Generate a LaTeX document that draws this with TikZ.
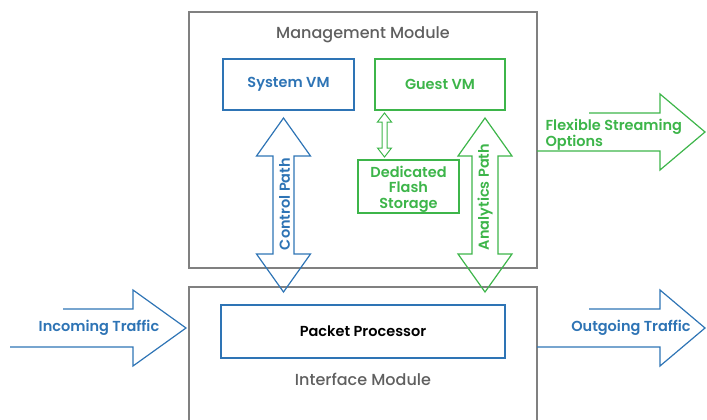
\documentclass[tikz,border=0pt]{standalone}
\usepackage{fontspec}
\setmainfont{Poppins}[BoldFont={Poppins SemiBold}]
\newfontfamily\titlefont{Poppins Medium}
\definecolor{vblue}{HTML}{2E74B5}
\definecolor{vgreen}{HTML}{3DB54A}
\definecolor{vgray}{HTML}{808080}
\definecolor{vtext}{HTML}{5F5F5F}
\newcommand{\vdblarrow}[7]{%
  \draw[#1] (#2-#5,#3+#7) -- (#2-#6,#3+#7) -- (#2,#3) -- (#2+#6,#3+#7) -- (#2+#5,#3+#7)
    -- (#2+#5,#4-#7) -- (#2+#6,#4-#7) -- (#2,#4) -- (#2-#6,#4-#7) -- (#2-#5,#4-#7) -- cycle;}
\begin{document}
\begin{tikzpicture}[x=1pt,y=-1pt,
  modbox/.style={draw=vgray,line width=2pt,inner sep=0pt},
  modtitle/.style={text=vtext,font=\titlefont\fontsize{16}{18}\selectfont},
  bluebox/.style={draw=vblue,line width=1.4pt,inner sep=0pt,text=vblue,font=\fontsize{14.5}{17}\selectfont\bfseries},
  greenbox/.style={draw=vgreen,line width=1.4pt,inner sep=0pt,text=vgreen,font=\fontsize{14.5}{17}\selectfont\bfseries,align=center},
  bluearrow/.style={draw=vblue,line width=1.2pt,line join=miter},
  greenarrow/.style={draw=vgreen,line width=1.2pt,line join=miter},
  bluelabel/.style={text=vblue,font=\fontsize{14.5}{17}\selectfont\bfseries},
  greenlabel/.style={text=vgreen,font=\fontsize{14.5}{17}\selectfont\bfseries,align=left}]
\useasboundingbox (0,0) rectangle (707,420);
% modules
\node[modbox,minimum width=348,minimum height=256] (mgmt) at (363,140) {};
\node[modtitle] (mgmttitle) at (363,35) {Management Module};
\draw[draw=vgray,line width=2pt] (189,421) -- (189,287) -- (537,287) -- (537,421);
\coordinate (iface) at (363,287);
\node[modtitle] (ifacetitle) at (363,379) {Interface Module};
% inner boxes
\node[bluebox,minimum width=131,minimum height=51] (sysvm) at (288.5,84.5) {System VM};
\node[greenbox,minimum width=130,minimum height=51] (guestvm) at (440,84.5) {Guest VM};
\node[draw=vgreen,line width=1.4pt,minimum width=101,minimum height=53] (flash) at (408.5,186.5) {};
\node[text=vgreen,align=center,font=\fontsize{14.5}{15.5}\selectfont\bfseries] (flashtext) at (408.5,189) {Dedicated\\Flash\\Storage};
\node[draw=vblue,line width=1.4pt,inner sep=0pt,minimum width=284,minimum height=53,font=\fontsize{14.5}{17}\selectfont\bfseries] (pp) at (363,331.5) {Packet Processor};
% vertical double arrows
\vdblarrow{bluearrow}{283.5}{118}{292}{10.5}{27}{38}
\node[bluelabel,rotate=90] (ctrl) at (284.5,204) {Control Path};
\vdblarrow{greenarrow}{485}{118}{292}{13}{27}{38}
\node[greenlabel,rotate=90] (anal) at (485,197) {Analytics Path};
\vdblarrow{greenarrow,line width=1pt}{384.5}{113}{157}{2.5}{7}{9}
% horizontal arrows
\draw[bluearrow] (63,309) -- (133,309) -- (133,290) -- (186,328) -- (133,366) -- (133,347) -- (10,347);
\node[bluelabel] (inc) at (99,328) {Incoming Traffic};
\draw[bluearrow] (589,309) -- (660,309) -- (660,290) -- (705,328) -- (660,366) -- (660,347) -- (537,347);
\node[bluelabel] (out) at (631,328) {Outgoing Traffic};
\draw[greenarrow] (589,113) -- (660,113) -- (660,94) -- (705,132) -- (660,170) -- (660,151) -- (537,151);
\node[greenlabel,anchor=west,font=\fontsize{14.5}{16}\selectfont\bfseries] (flex) at (542,135) {Flexible Streaming\\Options};
\end{tikzpicture}
\end{document}
